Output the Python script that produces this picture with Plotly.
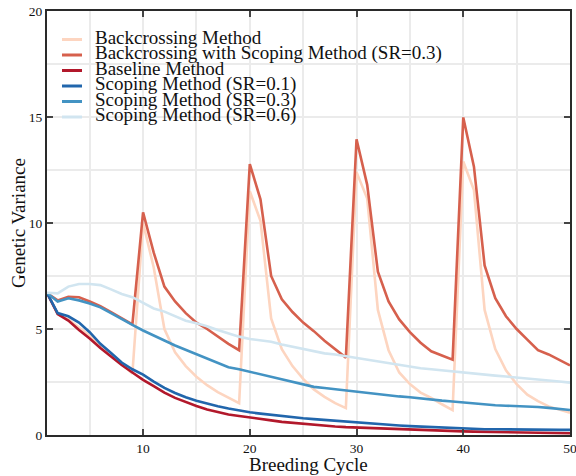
import plotly.graph_objects as go

# Breeding cycles 1..50
cycles = list(range(1, 51))

backcrossing = [
    6.70, 5.72, 5.45, 5.08, 4.68, 4.22, 3.80, 3.35, 2.90,
    10.00, 7.90, 5.00, 3.90, 3.25, 2.75, 2.35, 2.02, 1.75, 1.50,
    11.50, 10.10, 5.50, 4.05, 3.25, 2.65, 2.15, 1.80, 1.50, 1.27,
    12.40, 11.15, 5.90, 4.00, 2.95, 2.40, 2.00, 1.75, 1.45, 1.17,
    12.90, 11.55, 5.90, 4.05, 3.05, 2.40, 1.90, 1.60, 1.35, 1.20, 1.05,
]

backcrossing_scoping = [
    6.70, 6.35, 6.52, 6.50, 6.30, 6.08, 5.80, 5.52, 5.22,
    10.50, 8.60, 7.00, 6.30, 5.75, 5.30, 5.00, 4.65, 4.30, 4.00,
    12.78, 11.12, 7.50, 6.40, 5.80, 5.30, 4.90, 4.45, 4.05, 3.65,
    13.95, 11.80, 7.70, 6.30, 5.45, 4.85, 4.35, 3.95, 3.75, 3.55,
    14.98, 12.66, 8.00, 6.45, 5.60, 5.00, 4.50, 4.00, 3.80, 3.55, 3.28,
]

baseline = [
    6.70, 5.70, 5.40, 4.95, 4.55, 4.10, 3.70, 3.30, 2.95, 2.60,
    2.30, 2.00, 1.75, 1.55, 1.37, 1.20, 1.07, 0.97, 0.90, 0.84,
    0.76, 0.69, 0.62, 0.57, 0.52, 0.48, 0.44, 0.40, 0.37, 0.35,
    0.33, 0.30, 0.28, 0.26, 0.24, 0.22, 0.21, 0.19, 0.18, 0.17,
    0.16, 0.15, 0.14, 0.13, 0.12, 0.11, 0.10, 0.10, 0.09, 0.08,
]

scoping_01 = [
    6.70, 5.75, 5.60, 5.30, 4.85, 4.30, 3.87, 3.42, 3.10, 2.85,
    2.52, 2.22, 1.98, 1.78, 1.62, 1.48, 1.36, 1.25, 1.15, 1.07,
    1.01, 0.95, 0.89, 0.84, 0.79, 0.75, 0.71, 0.66, 0.62, 0.59,
    0.55, 0.51, 0.48, 0.45, 0.42, 0.40, 0.37, 0.34, 0.31, 0.29,
    0.28, 0.27, 0.27, 0.26, 0.26, 0.25, 0.25, 0.25, 0.24, 0.24,
]

scoping_03 = [
    6.70, 6.30, 6.45, 6.35, 6.20, 6.02, 5.75, 5.46, 5.19, 4.93,
    4.68, 4.46, 4.22, 4.02, 3.80, 3.60, 3.40, 3.20, 3.10, 2.98,
    2.87, 2.76, 2.65, 2.52, 2.38, 2.27, 2.22, 2.16, 2.10, 2.04,
    1.98, 1.92, 1.86, 1.82, 1.78, 1.72, 1.66, 1.62, 1.58, 1.53,
    1.48, 1.43, 1.40, 1.38, 1.37, 1.35, 1.32, 1.28, 1.23, 1.18,
]

scoping_06 = [
    6.71, 6.68, 7.00, 7.12, 7.12, 7.07, 6.87, 6.65, 6.50, 6.24,
    5.97, 5.82, 5.61, 5.39, 5.27, 5.13, 4.95, 4.80, 4.64, 4.53,
    4.47, 4.40, 4.27, 4.17, 4.05, 3.95, 3.85, 3.80, 3.72, 3.64,
    3.55, 3.45, 3.38, 3.30, 3.22, 3.15, 3.10, 3.05, 3.00, 2.92,
    2.87, 2.85, 2.80, 2.76, 2.72, 2.67, 2.62, 2.57, 2.52, 2.47,
]

names = [
    "Backcrossing Method",
    "Backcrossing with Scoping Method (SR=0.3)",
    "Baseline Method",
    "Scoping Method (SR=0.1)",
    "Scoping Method (SR=0.3)",
    "Scoping Method (SR=0.6)",
]
series = [backcrossing, backcrossing_scoping, baseline, scoping_01, scoping_03, scoping_06]
colors = ["#fdd5c0", "#d6604d", "#b2182b", "#2166ac", "#4393c3", "#d1e5f0"]

x_title = "Breeding Cycle"
y_title = "Genetic Variance"

FONT = "Liberation Serif"
TEXT = "#111111"
GRID = "#ebebeb"
AXIS = "#2a2a2a"

fig = go.Figure()
for name, ys, col in zip(names, series, colors):
    fig.add_trace(go.Scatter(
        x=cycles, y=ys, mode="lines", name=name,
        line=dict(color=col, width=2.6),
        showlegend=False,
    ))

# Pixel helpers for placing the legend and titles relative to the plot area
W, H = 576, 476
ml, mr, mt, mb = 47, 6, 11, 41
pw, ph = W - ml - mr, H - mt - mb
def px_x(px):
    return (px - ml) / pw
def px_y(py):
    return (H - mb - py) / ph

# Compact legend in the upper-left corner: coloured key lines and labels
row0, row_step = 39.5, 15.5
for i, (name, col) in enumerate(zip(names, colors)):
    yy = px_y(row0 + i * row_step)
    fig.add_shape(type="line", xref="paper", yref="paper",
                  x0=px_x(62), x1=px_x(82), y0=yy, y1=yy,
                  line=dict(color=col, width=3))
    fig.add_annotation(xref="paper", yref="paper", x=px_x(93), y=px_y(row0 - 2 + i * row_step),
                       text=name, showarrow=False, xanchor="left", yanchor="middle",
                       font=dict(family=FONT, size=19, color=TEXT))

# Axis titles
fig.add_annotation(xref="paper", yref="paper", x=0.5, y=px_y(464.5),
                   text=x_title, showarrow=False, xanchor="center", yanchor="middle",
                   font=dict(family=FONT, size=19, color=TEXT))
fig.add_annotation(xref="paper", yref="paper", x=px_x(18), y=0.5, textangle=-90,
                   text=y_title, showarrow=False, xanchor="center", yanchor="middle",
                   font=dict(family=FONT, size=19, color=TEXT))

axis_common = dict(
    showline=True, linecolor=AXIS, linewidth=2, mirror="allticks",
    ticks="inside", ticklen=6, tickwidth=1.5, tickcolor="#444444",
    showgrid=True, gridcolor=GRID, gridwidth=1.5, zeroline=False,
    tickfont=dict(family=FONT, size=13.5, color=TEXT),
    automargin=False, ticklabeloverflow="allow",
)

fig.update_xaxes(
    range=[1, 50], tick0=0, dtick=10,
    minor=dict(tick0=0, dtick=5, showgrid=True, gridcolor=GRID, gridwidth=1.5, ticks=""),
    **axis_common,
)
fig.update_yaxes(
    range=[0, 20], tick0=0, dtick=5,
    minor=dict(tick0=0, dtick=2.5, showgrid=True, gridcolor=GRID, gridwidth=1.5, ticks=""),
    **axis_common,
)

fig.update_layout(
    width=W, height=H,
    margin=dict(l=ml, r=mr, t=mt, b=mb),
    paper_bgcolor="white", plot_bgcolor="white",
    showlegend=False,
)

fig.write_html("out.html")
